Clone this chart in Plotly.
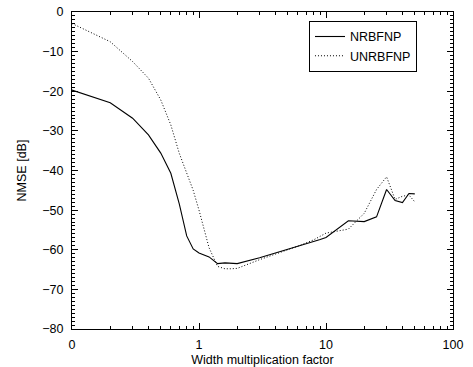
import plotly.graph_objects as go

x_vals = [0.1, 0.2, 0.3, 0.4, 0.5, 0.6, 0.7, 0.8, 0.9, 1.0, 1.2, 1.4, 1.6, 1.8, 2,
          3, 4, 5, 6, 7, 8, 9, 10, 15, 20, 25, 30, 35, 40, 45, 50]
nrbfnp = [-19.7, -22.9, -26.8, -31.0, -35.6, -40.7, -48.5, -56.5, -59.8, -60.8,
          -61.8, -63.5, -63.3, -63.5, -63.5,
          -62.0, -60.8, -59.9, -59.2, -58.6, -58.0, -57.4, -56.9,
          -52.7, -52.9, -51.7, -44.8, -47.6, -48.1, -45.8, -45.9]
unrbfnp = [-2.9, -7.5, -12.5, -16.7, -22.2, -28.5, -35.7, -40.5, -45.0, -50.0,
           -59.5, -64.2, -64.8, -64.8, -64.7,
           -62.5, -61.0, -60.0, -59.1, -58.3, -57.5, -56.6, -55.8,
           -54.8, -50.8, -44.8, -41.6, -47.3, -46.5, -46.2, -47.9]

x_major = [0.1, 1, 10, 100]
x_major_text = ["0", "1", "10", "100"]
x_minor = [m * d for d in (0.1, 1, 10) for m in range(2, 10)]
y_major = list(range(-80, 1, 10))

font = "Liberation Sans, Arial, Helvetica, sans-serif"

fig = go.Figure()
fig.add_trace(go.Scatter(x=x_vals, y=nrbfnp, mode="lines", name="NRBFNP",
                         line=dict(color="black", width=1.1)))
fig.add_trace(go.Scatter(x=x_vals, y=unrbfnp, mode="lines", name="UNRBFNP",
                         line=dict(color="black", width=1, dash="1px,2px")))

axis_common = dict(showline=True, linecolor="black", linewidth=1, mirror="ticks",
                   ticks="inside", ticklen=6, tickcolor="black", tickwidth=1,
                   showgrid=False, zeroline=False, automargin=False,
                   tickfont=dict(family=font, size=12.5, color="black"))

fig.update_layout(
    width=473, height=367,
    margin=dict(l=72, r=20, t=12, b=38),
    paper_bgcolor="white", plot_bgcolor="white",
    font=dict(family=font, size=12, color="black"),
    showlegend=True,
    legend=dict(x=0.622, y=0.972, xanchor="left", yanchor="top",
                bgcolor="white", bordercolor="black", borderwidth=1,
                font=dict(family=font, size=12.5, color="black"),
                tracegroupgap=0),
    xaxis=dict(type="log", range=[-1, 2], tickvals=x_major, ticktext=x_major_text,
               ticklabelstandoff=4,
               title=dict(text="Width multiplication factor", standoff=6,
                          font=dict(family=font, size=12.5)),
               minor=dict(tickvals=x_minor, ticks="inside", ticklen=3,
                          tickcolor="black", showgrid=False),
               **axis_common),
    yaxis=dict(range=[-80, 0], tickvals=y_major, ticklabelstandoff=5,
               title=dict(text="NMSE [dB]", standoff=12,
                          font=dict(family=font, size=12.5)),
               minor=dict(dtick=1, ticks="inside", ticklen=3,
                          tickcolor="black", showgrid=False),
               **axis_common),
)

fig.write_html("out.html")
